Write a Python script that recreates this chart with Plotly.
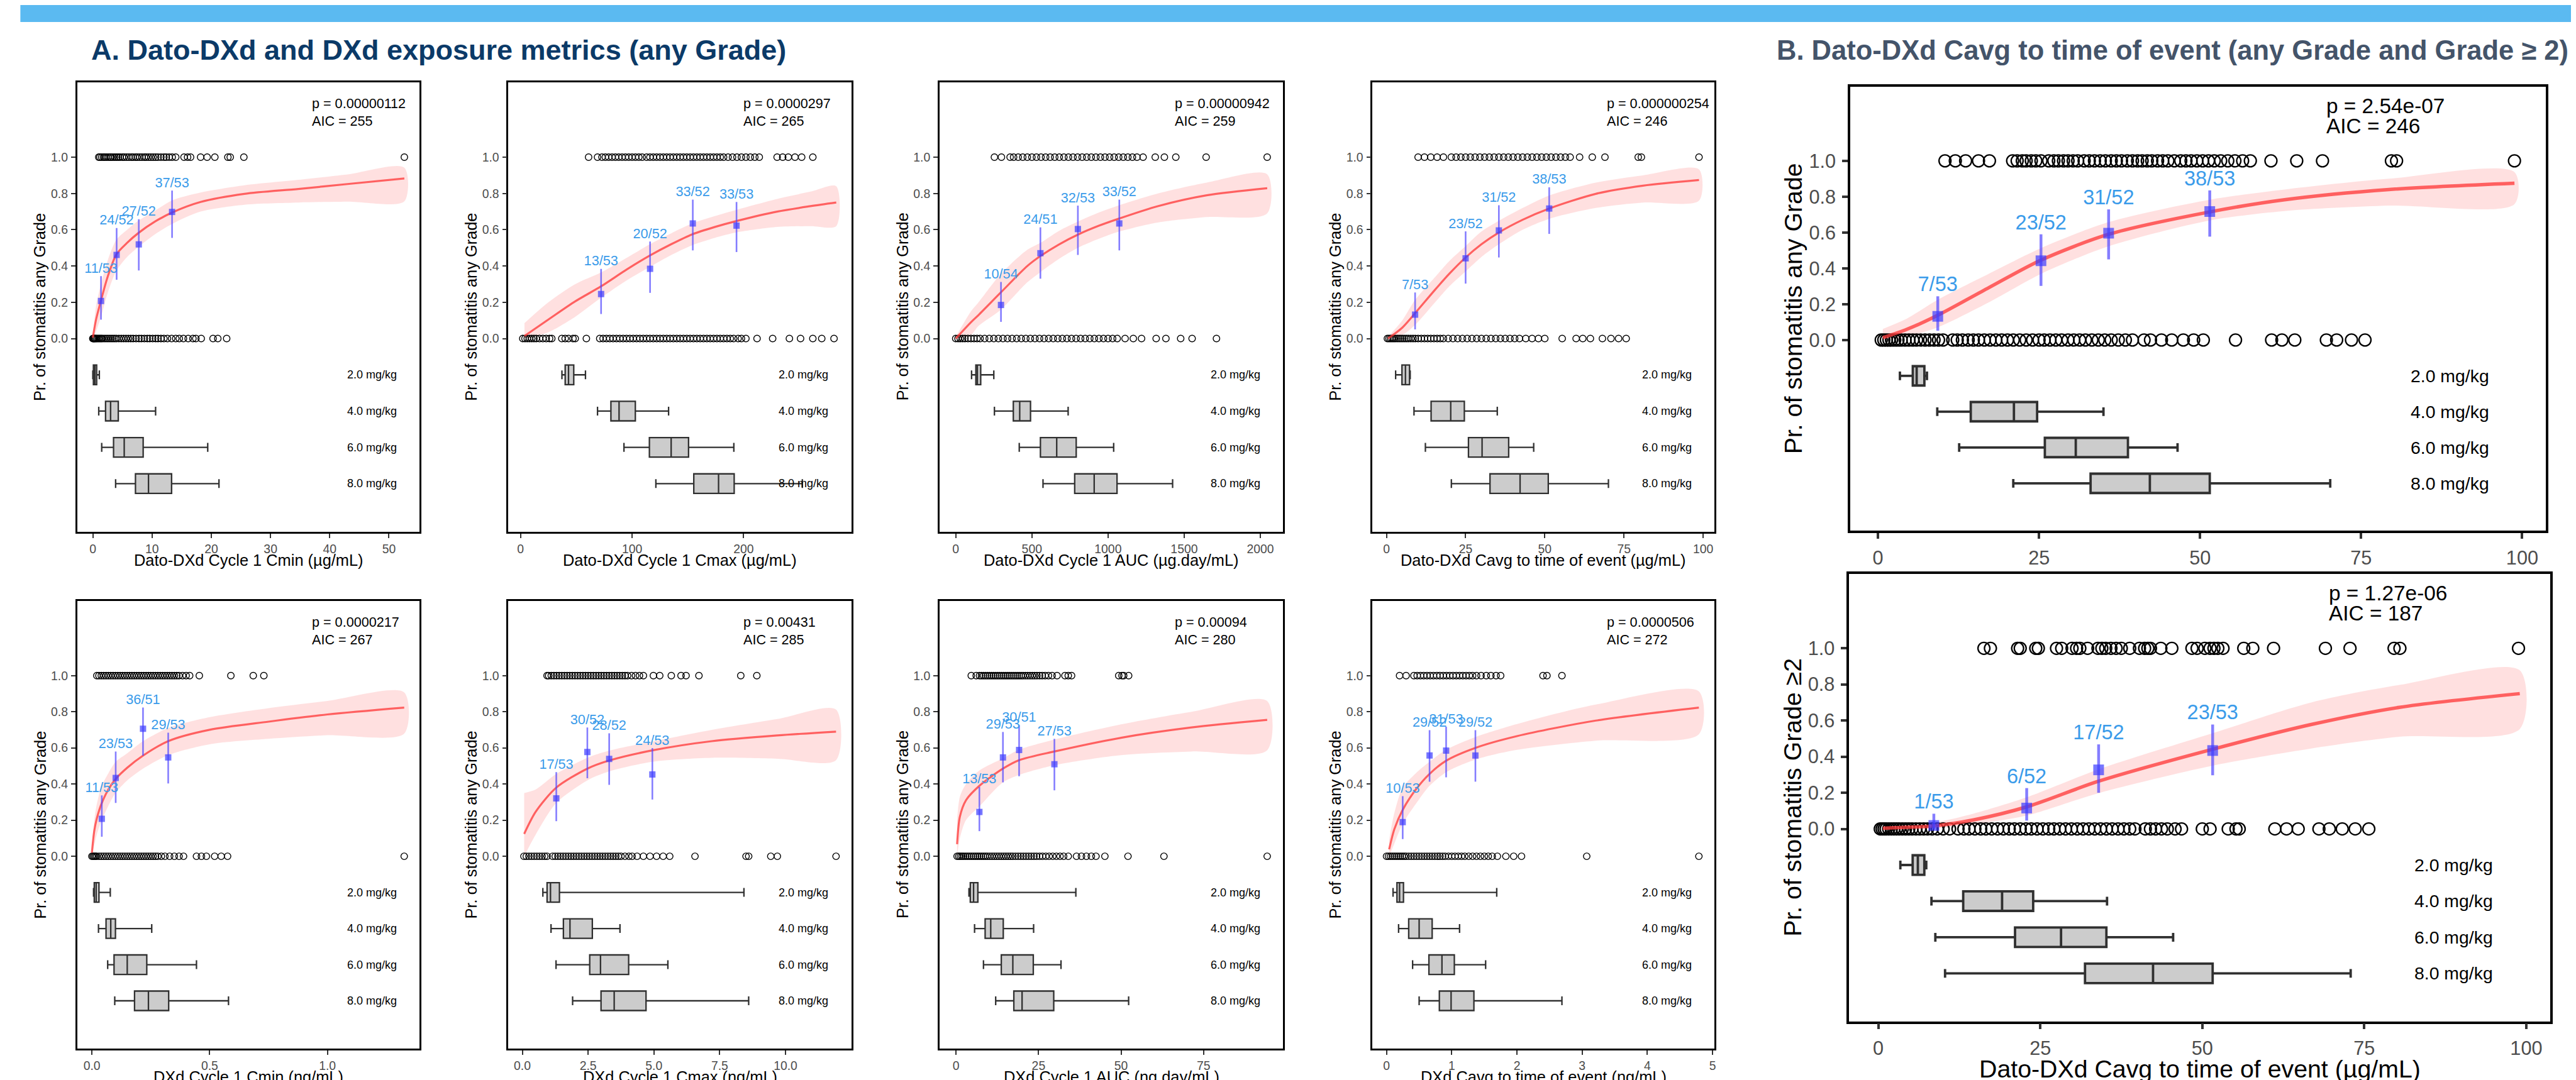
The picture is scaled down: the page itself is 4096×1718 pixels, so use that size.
import plotly.graph_objects as go

# ======================= DATA =======================
TITLE_A = "A. Dato-DXd and DXd exposure metrics (any Grade)"
TITLE_B = "B. Dato-DXd Cavg to time of event (any Grade and Grade \u2265 2)"
DOSE_LABELS = ["2.0 mg/kg", "4.0 mg/kg", "6.0 mg/kg", "8.0 mg/kg"]
Y_TICKS = [0.0, 0.2, 0.4, 0.6, 0.8, 1.0]
Y_TICK_TEXT = ["0.0", "0.2", "0.4", "0.6", "0.8", "1.0"]
YT_ANY = "Pr. of stomatitis any Grade"
YT_G2 = "Pr. of stomatitis Grade \u22652"

# ---- Panel 1: Dato-DXd Cycle 1 Cmin
P1_XTITLE = "Dato-DXd Cycle 1 Cmin (\u00b5g/mL)"
P1_STATS = ["p = 0.00000112", "AIC = 255"]
P1_XTICKS = [0, 10, 20, 30, 40, 50]
P1_BIN_X = [1.38, 4.02, 7.76, 13.38]
P1_BIN_EV = [11, 24, 27, 37]
P1_BIN_N = [53, 52, 52, 53]
P1_BIN_LO = [0.104, 0.324, 0.375, 0.555]
P1_BIN_HI = [0.344, 0.609, 0.658, 0.816]
P1_FIT_X = [0, 0.55, 1.38, 2.5, 4.0, 5.8, 7.7, 10.5, 13.4, 18.2, 25.6, 34.7, 43.0, 52.6]
P1_FIT_Y = [0.005, 0.105, 0.21, 0.34, 0.465, 0.528, 0.582, 0.645, 0.695, 0.753, 0.798, 0.825, 0.852, 0.883]
P1_FIT_LO = [0.0, 0.04, 0.12, 0.25, 0.375, 0.45, 0.505, 0.575, 0.632, 0.70, 0.738, 0.75, 0.755, 0.757]
P1_FIT_HI = [0.01, 0.18, 0.30, 0.43, 0.546, 0.60, 0.65, 0.705, 0.762, 0.805, 0.845, 0.875, 0.905, 0.942]
P1_EV1 = [1.0, 1.2, 1.5, 1.8, 2.0, 2.3, 2.6, 2.9, 3.1, 3.4, 3.7, 4.0, 4.3, 4.6, 5.0, 5.3, 5.7, 6.1, 6.5, 6.8,
          7.2, 7.5, 7.9, 8.3, 8.7, 9.0, 9.4, 9.8, 10.2, 10.6, 11.0, 11.5, 12.0, 12.4, 12.9, 13.4, 14.0, 15.4,
          16.0, 16.5, 18.2, 19.3, 20.6, 22.8, 23.2, 25.5, 52.6]
P1_EV0 = [0.0, 0.1, 0.2, 0.3, 0.45, 0.6, 0.8, 1.0, 1.2, 1.4, 1.6, 1.9, 2.2, 2.5, 2.8, 3.1, 3.4, 3.7, 4.0, 4.4,
          4.8, 5.2, 5.6, 6.0, 6.4, 6.8, 7.3, 7.8, 8.2, 8.7, 9.2, 9.6, 10.1, 10.6, 11.0, 11.5, 12.0, 12.6, 13.3,
          14.0, 14.6, 15.3, 16.1, 16.9, 17.4, 18.3, 20.3, 21.1, 22.6]
P1_BOX = [[0.0, 0.1, 0.35, 0.65, 1.1], [1.0, 2.15, 3.0, 4.3, 10.6],
          [1.5, 3.5, 5.3, 8.5, 19.4], [3.85, 7.2, 9.4, 13.3, 21.3]]

# ---- Panel 2: Dato-DXd Cycle 1 Cmax
P2_XTITLE = "Dato-DXd Cycle 1 Cmax (\u00b5g/mL)"
P2_STATS = ["p = 0.0000297", "AIC = 265"]
P2_XTICKS = [0, 100, 200]
P2_BIN_X = [72.2, 116.1, 154.4, 193.6]
P2_BIN_EV = [13, 20, 33, 33]
P2_BIN_N = [53, 52, 52, 53]
P2_BIN_LO = [0.135, 0.252, 0.486, 0.477]
P2_BIN_HI = [0.384, 0.535, 0.766, 0.753]
P2_FIT_X = [3.5, 25, 49, 72.2, 95, 116, 135, 154, 174, 193.6, 230, 260, 283]
P2_FIT_Y = [0.014, 0.105, 0.205, 0.288, 0.38, 0.458, 0.52, 0.575, 0.615, 0.648, 0.70, 0.73, 0.75]
P2_FIT_LO = [0.0, 0.035, 0.12, 0.225, 0.32, 0.395, 0.46, 0.515, 0.555, 0.585, 0.615, 0.62, 0.62]
P2_FIT_HI = [0.085, 0.2, 0.3, 0.365, 0.445, 0.52, 0.58, 0.635, 0.675, 0.71, 0.77, 0.81, 0.84]
P2_EV1 = [61, 69, 73, 76, 79, 82, 85, 88, 91, 94, 97, 100, 103, 106, 109, 113, 116, 119, 122, 125, 128,
          131, 134, 137, 140, 143, 146, 149, 152, 155, 158, 161, 164, 167, 170, 173, 176, 179, 182, 186,
          190, 194, 198, 202, 206, 210, 214, 230, 235, 240, 246, 252, 262]
P2_EV0 = [2, 4, 6, 8, 10, 12, 14, 17, 20, 23, 26, 28, 37, 40, 43, 47, 49, 59, 71, 74, 77, 80, 83, 86, 89,
          92, 95, 98, 101, 104, 107, 110, 113, 116, 119, 122, 125, 128, 131, 134, 137, 140, 143, 146, 149,
          152, 155, 158, 161, 164, 167, 170, 173, 176, 179, 182, 185, 188, 191, 195, 198, 202, 212, 226,
          241, 251, 262, 270, 281]
P2_BOX = [[37.1, 40.0, 43.0, 47.7, 58.2], [69.0, 81.0, 88.3, 102.9, 132.7],
          [92.7, 115.5, 135.0, 150.6, 191.2], [121.3, 155.3, 177.5, 191.5, 252.6]]

# ---- Panel 3: Dato-DXd Cycle 1 AUC
P3_XTITLE = "Dato-DXd Cycle 1 AUC (\u00b5g.day/mL)"
P3_STATS = ["p = 0.00000942", "AIC = 259"]
P3_XTICKS = [0, 500, 1000, 1500, 2000]
P3_BIN_X = [297, 556, 802, 1074]
P3_BIN_EV = [10, 24, 32, 33]
P3_BIN_N = [54, 51, 53, 52]
P3_BIN_LO = [0.092, 0.33, 0.461, 0.486]
P3_BIN_HI = [0.312, 0.613, 0.733, 0.766]
P3_FIT_X = [0, 100, 150, 297, 470, 556, 680, 802, 940, 1074, 1327, 1648, 2045]
P3_FIT_Y = [0.0, 0.09, 0.13, 0.255, 0.40, 0.455, 0.52, 0.573, 0.622, 0.662, 0.73, 0.79, 0.829]
P3_FIT_LO = [0.0, 0.02, 0.07, 0.16, 0.31, 0.366, 0.44, 0.50, 0.55, 0.59, 0.64, 0.67, 0.69]
P3_FIT_HI = [0.01, 0.15, 0.2, 0.357, 0.49, 0.528, 0.595, 0.645, 0.695, 0.735, 0.80, 0.86, 0.906]
P3_EV1 = [254, 300, 357, 380, 410, 440, 470, 500, 530, 560, 590, 620, 650, 680, 710, 740, 770, 800, 830,
          860, 890, 920, 950, 980, 1010, 1040, 1070, 1100, 1130, 1160, 1190, 1230, 1310, 1370, 1445, 1644,
          2045]
P3_EV0 = [0, 15, 30, 45, 60, 80, 100, 120, 140, 160, 190, 220, 250, 280, 310, 340, 370, 400, 430, 460,
          490, 520, 550, 580, 610, 640, 670, 700, 730, 760, 790, 820, 850, 880, 910, 940, 970, 1000, 1030,
          1060, 1112, 1166, 1220, 1316, 1380, 1477, 1552, 1712]
P3_BOX = [[104, 132, 142, 164, 250], [254, 378, 420, 491, 738],
          [417, 556, 663, 791, 1037], [573, 781, 909, 1059, 1424]]

# ---- Panel 4: Dato-DXd Cavg to time of event
P4_XTITLE = "Dato-DXd Cavg to time of event (\u00b5g/mL)"
P4_STATS = ["p = 0.000000254", "AIC = 246"]
P4_XTICKS = [0, 25, 50, 75, 100]
P4_BIN_X = [9.05, 25.0, 35.5, 51.4]
P4_BIN_EV = [7, 23, 31, 38]
P4_BIN_N = [53, 52, 52, 53]
P4_BIN_LO = [0.05, 0.303, 0.447, 0.577]
P4_BIN_HI = [0.254, 0.591, 0.735, 0.834]
P4_FIT_X = [0.5, 5, 9.05, 15.4, 20, 25, 30, 35.5, 43, 51.4, 66.1, 81, 98.7]
P4_FIT_Y = [0.0, 0.06, 0.14, 0.27, 0.36, 0.447, 0.52, 0.585, 0.655, 0.717, 0.798, 0.843, 0.874]
P4_FIT_LO = [0.0, 0.02, 0.075, 0.2, 0.29, 0.37, 0.45, 0.52, 0.6, 0.66, 0.72, 0.75, 0.76]
P4_FIT_HI = [0.01, 0.1, 0.213, 0.34, 0.43, 0.51, 0.59, 0.649, 0.72, 0.789, 0.86, 0.9, 0.933]
P4_EV1 = [10, 12, 14, 16, 18, 20.5, 22, 23.5, 25, 26.5, 28, 29.5, 31, 32.5, 34, 35.5, 37, 38.5, 40, 41.5,
          43, 44.5, 46, 47.5, 49, 50.5, 52, 53.5, 55, 56.5, 58, 61, 65, 69, 79.5, 80.5, 98.7]
P4_EV0 = [0.3, 0.8, 1.3, 1.8, 2.3, 2.8, 3.4, 4.0, 4.6, 5.2, 5.8, 6.4, 7.0, 7.7, 8.4, 9.1, 10, 11, 12, 13,
          14, 15, 16, 17, 18, 19.5, 21, 22.5, 24, 25.5, 27, 28.5, 30, 31.5, 33, 34.5, 36, 37.5, 39, 40.5,
          42, 44, 46, 48, 50, 55.5, 59.9, 62, 64.4, 68.2, 70.9, 73.3, 75.7]
P4_BOX = [[2.9, 4.9, 6.0, 7.3, 7.5], [8.7, 14.1, 20.3, 24.6, 35.0],
          [12.3, 25.9, 30.2, 38.6, 46.5], [20.5, 32.7, 42.2, 51.1, 70.1]]

# ---- Panel 5: DXd Cycle 1 Cmin
P5_XTITLE = "DXd Cycle 1 Cmin (ng/mL)"
P5_STATS = ["p = 0.0000217", "AIC = 267"]
P5_XTICKS = [0.0, 0.5, 1.0]
P5_BIN_X = [0.042, 0.101, 0.217, 0.324]
P5_BIN_EV = [11, 23, 36, 29]
P5_BIN_N = [53, 53, 51, 53]
P5_BIN_LO = [0.108, 0.295, 0.557, 0.403]
P5_BIN_HI = [0.337, 0.58, 0.823, 0.684]
P5_FIT_X = [0.0, 0.01, 0.021, 0.042, 0.07, 0.101, 0.15, 0.217, 0.324, 0.5, 0.75, 1.0, 1.326]
P5_FIT_Y = [0.02, 0.14, 0.21, 0.295, 0.37, 0.428, 0.49, 0.557, 0.637, 0.70, 0.745, 0.785, 0.823]
P5_FIT_LO = [0.0, 0.06, 0.12, 0.2, 0.28, 0.352, 0.42, 0.485, 0.56, 0.62, 0.65, 0.67, 0.679]
P5_FIT_HI = [0.04, 0.2, 0.29, 0.39, 0.46, 0.523, 0.57, 0.637, 0.71, 0.77, 0.82, 0.86, 0.907]
P5_EV1 = [0.021, 0.03, 0.04, 0.05, 0.06, 0.07, 0.08, 0.09, 0.10, 0.11, 0.12, 0.13, 0.14, 0.15, 0.16,
          0.17, 0.18, 0.19, 0.20, 0.21, 0.22, 0.23, 0.24, 0.25, 0.26, 0.27, 0.28, 0.29, 0.30, 0.31, 0.32,
          0.33, 0.34, 0.35, 0.36, 0.37, 0.385, 0.40, 0.415, 0.456, 0.59, 0.685, 0.73]
P5_EV0 = [0.0, 0.005, 0.01, 0.015, 0.02, 0.03, 0.04, 0.05, 0.06, 0.07, 0.08, 0.09, 0.10, 0.11, 0.12,
          0.13, 0.14, 0.15, 0.16, 0.17, 0.18, 0.19, 0.20, 0.21, 0.22, 0.23, 0.24, 0.25, 0.26, 0.27, 0.28,
          0.295, 0.31, 0.33, 0.35, 0.37, 0.389, 0.444, 0.465, 0.486, 0.521, 0.549, 0.576, 1.326]
P5_BOX = [[0.007, 0.01, 0.018, 0.03, 0.078], [0.028, 0.06, 0.08, 0.1, 0.254],
          [0.067, 0.094, 0.15, 0.233, 0.444], [0.097, 0.181, 0.24, 0.326, 0.58]]

# ---- Panel 6: DXd Cycle 1 Cmax
P6_XTITLE = "DXd Cycle 1 Cmax (ng/mL)"
P6_STATS = ["p = 0.00431", "AIC = 285"]
P6_XTICKS = [0.0, 2.5, 5.0, 7.5, 10.0]
P6_BIN_X = [1.29, 2.47, 3.3, 4.94]
P6_BIN_EV = [17, 30, 28, 24]
P6_BIN_N = [53, 52, 52, 53]
P6_BIN_LO = [0.194, 0.432, 0.395, 0.314]
P6_BIN_HI = [0.466, 0.713, 0.681, 0.599]
P6_FIT_X = [0.07, 0.51, 1.29, 2.47, 3.3, 4.94, 7.2, 9.69, 11.92]
P6_FIT_Y = [0.124, 0.247, 0.38, 0.485, 0.53, 0.586, 0.637, 0.669, 0.69]
P6_FIT_LO = [0.0, 0.12, 0.295, 0.42, 0.47, 0.523, 0.545, 0.54, 0.532]
P6_FIT_HI = [0.35, 0.37, 0.456, 0.545, 0.585, 0.635, 0.70, 0.76, 0.812]
P6_EV1 = [0.94, 1.0, 1.1, 1.2, 1.3, 1.4, 1.5, 1.6, 1.7, 1.8, 1.9, 2.0, 2.1, 2.2, 2.3, 2.4, 2.5, 2.6, 2.7,
          2.8, 2.9, 3.0, 3.1, 3.2, 3.3, 3.4, 3.5, 3.6, 3.7, 3.8, 3.9, 4.0, 4.15, 4.3, 4.45, 4.6, 4.98, 5.22,
          5.66, 6.03, 6.22, 6.71, 8.3, 8.91]
P6_EV0 = [0.06, 0.15, 0.25, 0.35, 0.45, 0.55, 0.65, 0.75, 0.85, 0.94, 1.15, 1.25, 1.35, 1.45, 1.55, 1.65,
          1.75, 1.85, 1.95, 2.05, 2.15, 2.25, 2.35, 2.45, 2.55, 2.65, 2.75, 2.85, 2.95, 3.05, 3.15, 3.25,
          3.35, 3.45, 3.55, 3.65, 3.75, 3.9, 4.05, 4.17, 4.36, 4.6, 4.85, 5.1, 5.35, 5.6, 6.56, 8.5, 8.6,
          9.44, 9.69, 11.92]
P6_BOX = [[0.78, 0.94, 1.07, 1.41, 8.42], [1.09, 1.56, 1.81, 2.66, 3.71],
          [1.28, 2.56, 2.97, 4.04, 5.53], [1.91, 2.99, 3.49, 4.7, 8.6]]

# ---- Panel 7: DXd Cycle 1 AUC
P7_XTITLE = "DXd Cycle 1 AUC (ng.day/mL)"
P7_STATS = ["p = 0.00094", "AIC = 280"]
P7_XTICKS = [0, 25, 50, 75]
P7_BIN_X = [7.06, 14.2, 19.1, 29.8]
P7_BIN_EV = [13, 29, 30, 27]
P7_BIN_N = [53, 53, 51, 53]
P7_BIN_LO = [0.139, 0.409, 0.443, 0.365]
P7_BIN_HI = [0.384, 0.688, 0.726, 0.65]
P7_FIT_X = [0.3, 1.15, 3.0, 7.06, 14.2, 19.1, 29.8, 50, 71.4, 94.3]
P7_FIT_Y = [0.067, 0.219, 0.31, 0.39, 0.485, 0.532, 0.58, 0.656, 0.713, 0.755]
P7_FIT_LO = [0.0, 0.1, 0.2, 0.276, 0.409, 0.45, 0.504, 0.56, 0.58, 0.587]
P7_FIT_HI = [0.2, 0.33, 0.40, 0.475, 0.542, 0.59, 0.646, 0.73, 0.80, 0.859]
P7_EV1 = [4.6, 6.1, 7.1, 7.7, 8.3, 8.9, 9.5, 10.1, 10.7, 11.3, 11.9, 12.5, 13.1, 13.7, 14.3, 14.9, 15.5,
          16.1, 16.7, 17.3, 17.9, 18.5, 19.1, 19.7, 20.3, 21.0, 21.7, 22.4, 23.1, 23.8, 24.5, 25.3, 26.1,
          27.0, 28.0, 29.1, 30.6, 33.0, 34.0, 35.0, 49.3, 50.3, 50.8, 52.3]
P7_EV0 = [0.3, 0.8, 1.3, 1.8, 2.3, 2.9, 3.5, 4.1, 4.7, 5.3, 5.9, 6.5, 7.1, 7.7, 8.3, 8.9, 9.5, 10.2, 10.9,
          11.6, 12.3, 13.0, 13.7, 14.4, 15.1, 15.8, 16.5, 17.2, 18.0, 18.8, 19.6, 20.4, 21.2, 22.0, 22.8,
          23.6, 24.4, 25.3, 26.2, 27.2, 28.2, 29.3, 30.4, 31.5, 32.6, 34.0, 36.5, 38.0, 39.5, 41.0, 42.4,
          45.1, 52.1, 63.0, 94.3]
P7_BOX = [[3.9, 4.3, 5.3, 6.6, 36.3], [5.6, 8.8, 10.5, 14.3, 23.5],
          [8.3, 13.7, 17.2, 23.4, 31.8], [12.0, 17.5, 20.0, 29.6, 52.3]]

# ---- Panel 8: DXd Cavg to time of event
P8_XTITLE = "DXd Cavg to time of event (ng/mL)"
P8_STATS = ["p = 0.0000506", "AIC = 272"]
P8_XTICKS = [0, 1, 2, 3, 4, 5]
P8_BIN_X = [0.248, 0.66, 0.914, 1.363]
P8_BIN_EV = [10, 29, 31, 29]
P8_BIN_N = [53, 52, 53, 52]
P8_BIN_LO = [0.095, 0.413, 0.437, 0.413]
P8_BIN_HI = [0.333, 0.698, 0.717, 0.698]
P8_FIT_X = [0.04, 0.12, 0.248, 0.45, 0.66, 0.914, 1.363, 2.0, 3.21, 4.79]
P8_FIT_Y = [0.038, 0.15, 0.257, 0.37, 0.456, 0.529, 0.6, 0.665, 0.751, 0.823]
P8_FIT_LO = [0.0, 0.07, 0.18, 0.29, 0.39, 0.465, 0.535, 0.589, 0.64, 0.675]
P8_FIT_HI = [0.09, 0.24, 0.38, 0.46, 0.523, 0.59, 0.66, 0.732, 0.84, 0.913]
P8_EV1 = [0.2, 0.3, 0.42, 0.47, 0.52, 0.57, 0.62, 0.67, 0.72, 0.77, 0.82, 0.87, 0.92, 0.97, 1.02, 1.07,
          1.12, 1.17, 1.22, 1.27, 1.32, 1.38, 1.45, 1.53, 1.6, 1.68, 1.75, 2.4, 2.46, 2.69]
P8_EV0 = [0.0, 0.03, 0.06, 0.09, 0.12, 0.15, 0.18, 0.21, 0.24, 0.27, 0.3, 0.34, 0.38, 0.42, 0.46, 0.5,
          0.54, 0.58, 0.62, 0.66, 0.7, 0.74, 0.78, 0.82, 0.86, 0.9, 0.95, 1.0, 1.05, 1.1, 1.15, 1.2, 1.26,
          1.32, 1.38, 1.44, 1.5, 1.56, 1.62, 1.7, 1.83, 1.95, 2.07, 3.07, 4.79]
P8_BOX = [[0.1, 0.16, 0.2, 0.26, 1.69], [0.185, 0.34, 0.5, 0.7, 1.12],
          [0.4, 0.65, 0.85, 1.04, 1.52], [0.5, 0.81, 0.99, 1.34, 2.69]]

# ---- Panel B1: Dato-DXd Cavg, any Grade
B1_XTITLE = ""
B1_STATS = ["p = 2.54e-07", "AIC = 246"]
B1_XTICKS = [0, 25, 50, 75, 100]
B1_BIN_X = [9.28, 25.3, 35.8, 51.5]
B1_BIN_EV = [7, 23, 31, 38]
B1_BIN_N = [53, 52, 52, 53]
B1_BIN_LO = [0.052, 0.302, 0.45, 0.577]
B1_BIN_HI = [0.244, 0.59, 0.729, 0.835]
B1_FIT_X = [0.75, 4.5, 9.28, 17.2, 25.3, 35.8, 51.5, 63.1, 79.3, 98.8]
B1_FIT_Y = [0.013, 0.06, 0.138, 0.292, 0.446, 0.59, 0.715, 0.783, 0.84, 0.875]
B1_FIT_LO = [0.0, 0.02, 0.071, 0.21, 0.369, 0.523, 0.667, 0.72, 0.75, 0.758]
B1_FIT_HI = [0.062, 0.12, 0.225, 0.37, 0.513, 0.658, 0.783, 0.84, 0.9, 0.937]
B1_EV1 = [10.4, 12.0, 13.6, 15.6, 17.3, 20.9, 21.6, 22.4, 23.0, 23.8, 24.5, 25.3, 26.5, 27.3, 28.0, 28.8,
          29.5, 30.3, 31.0, 32.0, 32.8, 33.6, 34.5, 35.3, 36.2, 37.0, 37.8, 38.7, 39.5, 40.3, 41.0, 41.8,
          42.5, 43.4, 44.2, 45.0, 46.0, 47.0, 47.8, 48.6, 49.5, 50.4, 51.3, 52.2, 53.2, 54.3, 55.4, 56.6,
          57.8, 61.0, 65.0, 69.0, 79.7, 80.5, 98.8]
B1_EV0 = [0.5, 0.9, 1.3, 1.7, 2.1, 2.6, 3.1, 3.6, 4.2, 4.8, 5.4, 6.0, 6.6, 7.3, 8.0, 8.7, 9.4, 10.1, 11.6,
          12.3, 13.1, 14.0, 14.8, 15.6, 16.5, 17.4, 18.3, 19.2, 20.1, 21.0, 22.0, 23.0, 24.0, 25.0, 25.8,
          26.7, 27.6, 28.5, 29.5, 30.4, 31.3, 32.2, 33.2, 34.2, 35.2, 36.2, 37.3, 38.4, 39.5, 41.3, 42.3,
          44.0, 45.6, 47.4, 49.0, 50.5, 55.5, 61.1, 62.7, 64.7, 69.6, 71.2, 73.5, 75.6]
B1_BOX = [[3.4, 5.4, 6.0, 7.2, 7.6], [9.2, 14.4, 21.1, 24.7, 35.0],
          [12.6, 25.9, 30.7, 38.8, 46.5], [21.0, 33.0, 42.2, 51.5, 70.2]]

# ---- Panel B2: Dato-DXd Cavg, Grade >= 2
B2_XTITLE = "Dato-DXd Cavg to time of event (\u00b5g/mL)"
B2_STATS = ["p = 1.27e-06", "AIC = 187"]
B2_XTICKS = [0, 25, 50, 75, 100]
B2_BIN_X = [8.57, 22.9, 34.0, 51.6]
B2_BIN_EV = [1, 6, 17, 23]
B2_BIN_N = [53, 52, 52, 53]
B2_BIN_LO = [0.0, 0.046, 0.2, 0.297]
B2_BIN_HI = [0.084, 0.226, 0.468, 0.578]
B2_FIT_X = [0.7, 8.57, 14.7, 22.9, 34, 51.6, 66.8, 80.4, 99]
B2_FIT_Y = [0.004, 0.017, 0.05, 0.122, 0.264, 0.441, 0.578, 0.673, 0.749]
B2_FIT_LO = [0.0, 0.004, 0.025, 0.074, 0.198, 0.35, 0.445, 0.51, 0.553]
B2_FIT_HI = [0.01, 0.035, 0.085, 0.175, 0.33, 0.53, 0.70, 0.797, 0.878]
B2_EV1 = [16.3, 17.3, 21.5, 21.9, 24.3, 24.7, 27.5, 28.3, 29.9, 30.6, 31.1, 32.3, 33.9, 34.5, 35.1, 35.9,
          36.7, 37.5, 38.8, 40.3, 41.1, 41.6, 42.0, 43.6, 45.3, 48.4, 49.2, 50.4, 51.2, 51.8, 52.4, 53.2,
          56.4, 57.8, 61.0, 69.0, 72.8, 79.6, 80.5, 98.8]
B2_EV0 = [0.3, 0.6, 0.9, 1.2, 1.6, 2.0, 2.4, 2.8, 3.2, 3.7, 4.2, 4.7, 5.2, 5.8, 6.4, 7.0, 7.6, 8.3, 9.1,
          10.0, 11.0, 12.3, 13.2, 14.0, 14.9, 15.8, 16.6, 17.5, 18.4, 19.3, 20.2, 21.0, 21.9, 22.8, 23.6,
          24.5, 25.4, 26.3, 27.1, 28.0, 28.9, 29.8, 30.7, 31.6, 32.5, 33.4, 34.3, 35.2, 36.1, 37.0, 37.9,
          38.8, 39.6, 41.2, 42.0, 42.8, 43.7, 44.6, 45.8, 46.8, 50.0, 51.2, 54.0, 55.2, 55.7, 61.2, 63.0,
          64.8, 68.0, 69.6, 71.6, 73.6, 75.7]
B2_BOX = [[3.4, 5.3, 6.1, 7.1, 7.4], [8.2, 13.1, 19.1, 23.9, 35.3],
          [8.8, 21.1, 28.2, 35.2, 45.5], [10.3, 31.9, 42.4, 51.6, 72.9]]


def panel(xt, yt, stats, xticks, bx, bev, bn, blo, bhi, fx, fy, flo, fhi, ev1, ev0, box, fmt):
    return dict(xtitle=xt, ytitle=yt, stats=stats, xticks=xticks, bin_x=bx, bin_ev=bev, bin_n=bn,
                bin_lo=blo, bin_hi=bhi, fit_x=fx, fit_y=fy, fit_lo=flo, fit_hi=fhi, ev1=ev1, ev0=ev0,
                box=box, fmt=fmt)


PANELS = [
    panel(P1_XTITLE, YT_ANY, P1_STATS, P1_XTICKS, P1_BIN_X, P1_BIN_EV, P1_BIN_N, P1_BIN_LO, P1_BIN_HI,
          P1_FIT_X, P1_FIT_Y, P1_FIT_LO, P1_FIT_HI, P1_EV1, P1_EV0, P1_BOX, "d"),
    panel(P2_XTITLE, YT_ANY, P2_STATS, P2_XTICKS, P2_BIN_X, P2_BIN_EV, P2_BIN_N, P2_BIN_LO, P2_BIN_HI,
          P2_FIT_X, P2_FIT_Y, P2_FIT_LO, P2_FIT_HI, P2_EV1, P2_EV0, P2_BOX, "d"),
    panel(P3_XTITLE, YT_ANY, P3_STATS, P3_XTICKS, P3_BIN_X, P3_BIN_EV, P3_BIN_N, P3_BIN_LO, P3_BIN_HI,
          P3_FIT_X, P3_FIT_Y, P3_FIT_LO, P3_FIT_HI, P3_EV1, P3_EV0, P3_BOX, "d"),
    panel(P4_XTITLE, YT_ANY, P4_STATS, P4_XTICKS, P4_BIN_X, P4_BIN_EV, P4_BIN_N, P4_BIN_LO, P4_BIN_HI,
          P4_FIT_X, P4_FIT_Y, P4_FIT_LO, P4_FIT_HI, P4_EV1, P4_EV0, P4_BOX, "d"),
    panel(P5_XTITLE, YT_ANY, P5_STATS, P5_XTICKS, P5_BIN_X, P5_BIN_EV, P5_BIN_N, P5_BIN_LO, P5_BIN_HI,
          P5_FIT_X, P5_FIT_Y, P5_FIT_LO, P5_FIT_HI, P5_EV1, P5_EV0, P5_BOX, ".1f"),
    panel(P6_XTITLE, YT_ANY, P6_STATS, P6_XTICKS, P6_BIN_X, P6_BIN_EV, P6_BIN_N, P6_BIN_LO, P6_BIN_HI,
          P6_FIT_X, P6_FIT_Y, P6_FIT_LO, P6_FIT_HI, P6_EV1, P6_EV0, P6_BOX, ".1f"),
    panel(P7_XTITLE, YT_ANY, P7_STATS, P7_XTICKS, P7_BIN_X, P7_BIN_EV, P7_BIN_N, P7_BIN_LO, P7_BIN_HI,
          P7_FIT_X, P7_FIT_Y, P7_FIT_LO, P7_FIT_HI, P7_EV1, P7_EV0, P7_BOX, "d"),
    panel(P8_XTITLE, YT_ANY, P8_STATS, P8_XTICKS, P8_BIN_X, P8_BIN_EV, P8_BIN_N, P8_BIN_LO, P8_BIN_HI,
          P8_FIT_X, P8_FIT_Y, P8_FIT_LO, P8_FIT_HI, P8_EV1, P8_EV0, P8_BOX, "d"),
    panel(B1_XTITLE, YT_ANY, B1_STATS, B1_XTICKS, B1_BIN_X, B1_BIN_EV, B1_BIN_N, B1_BIN_LO, B1_BIN_HI,
          B1_FIT_X, B1_FIT_Y, B1_FIT_LO, B1_FIT_HI, B1_EV1, B1_EV0, B1_BOX, "d"),
    panel(B2_XTITLE, YT_G2, B2_STATS, B2_XTICKS, B2_BIN_X, B2_BIN_EV, B2_BIN_N, B2_BIN_LO, B2_BIN_HI,
          B2_FIT_X, B2_FIT_Y, B2_FIT_LO, B2_FIT_HI, B2_EV1, B2_EV0, B2_BOX, "d"),
]

# ======================= LAYOUT / STYLE =======================
W, H = 4096, 1718
FW, FH = 4532.0, 1901.0           # reference pixel frame
S = W / FW
FONT = "Liberation Sans, Arial, Helvetica, sans-serif"


def xd(a, b):
    return [a / FW, b / FW]


def yd(top, bottom):
    return [1 - bottom / FH, 1 - top / FH]


ROW1, ROW2 = yd(136, 927), yd(1049, 1837)
COLS = [xd(127, 730), xd(886, 1489.6), xd(1645, 2249.5), xd(2407, 3009)]
GEOM = [
    dict(xd=COLS[0], yd=ROW1, xr=[-2.64, 55.2], big=False),
    dict(xd=COLS[1], yd=ROW1, xr=[-10.9, 296.5], big=False),
    dict(xd=COLS[2], yd=ROW1, xr=[-106, 2149], big=False),
    dict(xd=COLS[3], yd=ROW1, xr=[-4.4, 103.6], big=False),
    dict(xd=COLS[0], yd=ROW2, xr=[-0.0625, 1.392], big=False),
    dict(xd=COLS[1], yd=ROW2, xr=[-0.53, 12.5], big=False),
    dict(xd=COLS[2], yd=ROW2, xr=[-5.0, 99.1], big=False),
    dict(xd=COLS[3], yd=ROW2, xr=[-0.215, 5.03], big=False),
    dict(xd=xd(3248, 4472.6), yd=yd(144, 925.5), xr=[-4.3, 103.7], big=True),
    dict(xd=xd(3246, 4480), yd=yd(1001, 1788.7), xr=[-4.5, 103.7], big=True),
]
YR = [-1.065, 1.413]
DOSE_POS = [-0.2, -0.4, -0.6, -0.8]

SMALL = dict(tick=19.4, title=25.4, stat=21.6, lab=21.7, dose=18, circ=10.5, circ_lw=1.4, sq=10,
             err=2.6, curve=3.2, box_lw=2.3, axis_lw=2.7, ticklen=7, tickw=1.8, ytshift=-59,
             xtshift=-45, dose_x=0.937, tls=1, stat_y=(1.297, 1.200))
BIG = dict(tick=30.7, title=39.3, stat=33.4, lab=32.5, dose=28.4, circ=19, circ_lw=2.3, sq=17,
           err=4.5, curve=5.5, box_lw=3.8, axis_lw=3.6, ticklen=9, tickw=3.5, ytshift=-91,
           xtshift=-75, dose_x=0.92, tls=4, stat_y=(1.305, 1.195))

RIBBON = "rgba(255,0,0,0.12)"
CURVE = "rgba(255,60,60,0.78)"
BIN = "rgba(60,60,255,0.70)"
BINERR = "rgba(80,70,255,0.70)"
LABEL = "#3A9BEA"
TICKCOL = "#4D4D4D"

fig = go.Figure()
annotations = []
layout = dict(width=W, height=H, margin=dict(l=0, r=0, t=0, b=0),
              paper_bgcolor="white", plot_bgcolor="white", showlegend=False,
              font=dict(family=FONT, color="black"))

for i, (P, G) in enumerate(zip(PANELS, GEOM), start=1):
    st = BIG if G["big"] else SMALL
    xa = "x" if i == 1 else f"x{i}"
    ya = "y" if i == 1 else f"y{i}"
    common = dict(xaxis=xa, yaxis=ya, showlegend=False, hoverinfo="skip")

    # confidence ribbon
    fig.add_trace(go.Scatter(x=P["fit_x"] + P["fit_x"][::-1], y=P["fit_hi"] + P["fit_lo"][::-1],
                             mode="lines", fill="toself", fillcolor=RIBBON,
                             line=dict(width=0, shape="spline", smoothing=0.8), **common))
    # observations
    fig.add_trace(go.Scatter(x=P["ev1"], y=[1] * len(P["ev1"]), mode="markers",
                             marker=dict(symbol="circle-open", size=st["circ"], color="black",
                                         line=dict(width=st["circ_lw"], color="black")), **common))
    fig.add_trace(go.Scatter(x=P["ev0"], y=[0] * len(P["ev0"]), mode="markers",
                             marker=dict(symbol="circle-open", size=st["circ"], color="black",
                                         line=dict(width=st["circ_lw"], color="black")), **common))
    # fitted curve
    fig.add_trace(go.Scatter(x=P["fit_x"], y=P["fit_y"], mode="lines",
                             line=dict(color=CURVE, width=st["curve"], shape="spline", smoothing=0.8),
                             **common))
    # dose boxplots
    fig.add_trace(go.Box(y=DOSE_POS, orientation="h",
                         lowerfence=[b[0] for b in P["box"]], q1=[b[1] for b in P["box"]],
                         median=[b[2] for b in P["box"]], q3=[b[3] for b in P["box"]],
                         upperfence=[b[4] for b in P["box"]],
                         fillcolor="#CCCCCC", line=dict(color="#303030", width=st["box_lw"]),
                         width=0.108, whiskerwidth=0.45, boxpoints=False, **common))
    # binned observed proportions
    rate = [e / n for e, n in zip(P["bin_ev"], P["bin_n"])]
    fig.add_trace(go.Scatter(x=P["bin_x"], y=rate, mode="markers",
                             marker=dict(symbol="square", size=st["sq"], color=BIN),
                             error_y=dict(type="data", symmetric=False,
                                          array=[h - r for h, r in zip(P["bin_hi"], rate)],
                                          arrayminus=[r - l for r, l in zip(rate, P["bin_lo"])],
                                          color=BINERR, thickness=st["err"], width=0),
                             **common))
    fig.add_trace(go.Scatter(x=P["bin_x"], y=P["bin_hi"], mode="text",
                             text=[f"{e}/{n}" for e, n in zip(P["bin_ev"], P["bin_n"])],
                             textposition="top center",
                             textfont=dict(color=LABEL, size=st["lab"], family=FONT), **common))

    # axes
    if P["fmt"] == ".1f":
        xtt = [f"{v:.1f}" for v in P["xticks"]]
    else:
        xtt = [f"{v:g}" for v in P["xticks"]]
    axis_common = dict(showline=True, mirror=True, linecolor="black", linewidth=st["axis_lw"],
                       showgrid=False, zeroline=False, ticks="outside", ticklen=st["ticklen"],
                       tickwidth=st["tickw"], tickcolor="#333333",
                       tickfont=dict(size=st["tick"], color=TICKCOL, family=FONT),
                       ticklabelstandoff=st["tls"])
    layout["xaxis" if i == 1 else f"xaxis{i}"] = dict(domain=G["xd"], range=G["xr"], anchor=ya,
                                                      tickvals=P["xticks"], ticktext=xtt,
                                                      **axis_common)
    layout["yaxis" if i == 1 else f"yaxis{i}"] = dict(domain=G["yd"], range=YR, anchor=xa,
                                                      tickvals=Y_TICKS, ticktext=Y_TICK_TEXT,
                                                      **axis_common)

    # stats text
    for txt, yy in zip(P["stats"], st["stat_y"]):
        annotations.append(dict(text=txt, xref=f"{xa} domain", x=0.682, xanchor="left",
                                yref=ya, y=yy, yanchor="middle", showarrow=False,
                                font=dict(size=st["stat"], color="black", family=FONT)))
    # dose labels
    for lab, yy in zip(DOSE_LABELS, DOSE_POS):
        annotations.append(dict(text=lab, xref=f"{xa} domain", x=st["dose_x"], xanchor="right",
                                yref=ya, y=yy, yanchor="middle", showarrow=False,
                                font=dict(size=st["dose"], color="black", family=FONT)))
    # axis titles
    if P["xtitle"]:
        annotations.append(dict(text=P["xtitle"], xref=f"{xa} domain", x=0.5, xanchor="center",
                                yref=f"{ya} domain", y=0, yanchor="middle", yshift=st["xtshift"],
                                showarrow=False,
                                font=dict(size=st["title"], color="black", family=FONT)))
    annotations.append(dict(text=P["ytitle"], xref=f"{xa} domain", x=0, xanchor="center",
                            xshift=st["ytshift"], yref=f"{ya} domain", y=0.5, yanchor="middle",
                            textangle=-90, showarrow=False,
                            font=dict(size=st["title"], color="black", family=FONT)))

# section titles
annotations.append(dict(text=f"<b>{TITLE_A}</b>", xref="paper", yref="paper", x=149 / FW, y=1 - 79.5 / FH,
                        xanchor="left", yanchor="middle", showarrow=False,
                        font=dict(size=45, color="#0B3A68", family=FONT)))
annotations.append(dict(text=f"<b>{TITLE_B}</b>", xref="paper", yref="paper", x=3116 / FW, y=1 - 79.5 / FH,
                        xanchor="left", yanchor="middle", showarrow=False,
                        font=dict(size=43.5, color="#44546A", family=FONT)))

layout["annotations"] = annotations
layout["shapes"] = [dict(type="rect", xref="paper", yref="paper", x0=27 / FW, x1=1.0,
                         y0=1 - 30 / FH, y1=1.0, fillcolor="#5BBAF1", line=dict(width=0),
                         layer="below")]
fig.update_layout(**layout)
fig.write_html("out.html")
